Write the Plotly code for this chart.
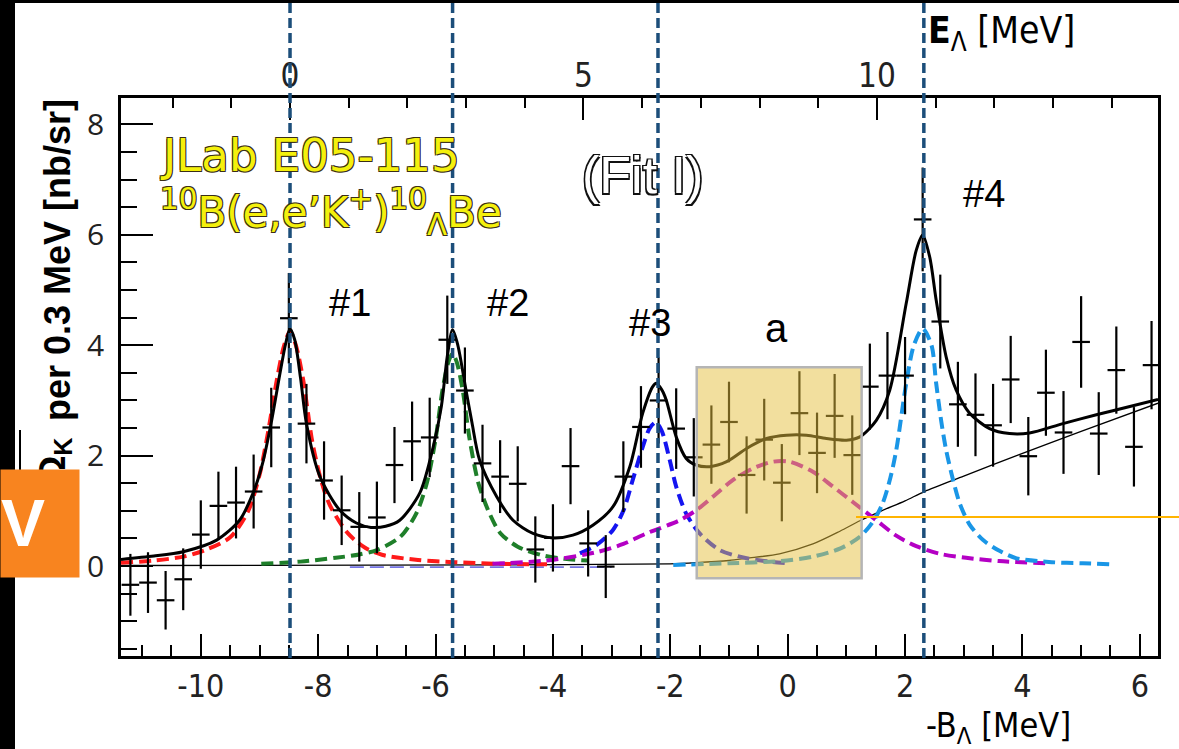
import plotly.graph_objects as go

W, H = 1179, 749

# ---------------- data ----------------
bin_x = [-11.2, -10.9, -10.6, -10.3, -10.0, -9.7, -9.4, -9.1, -8.8, -8.5, -8.2, -7.9, -7.6, -7.3, -7.0,
         -6.7, -6.4, -6.1, -5.8, -5.5, -5.2, -4.9, -4.6, -4.3, -4.0, -3.7, -3.4, -3.1, -2.8, -2.5,
         -2.2, -1.9, -1.6, -1.3, -1.0, -0.7, -0.4, -0.1, 0.2, 0.5, 0.8, 1.1, 1.4, 1.7, 2.0,
         2.3, 2.6, 2.9, 3.2, 3.5, 3.8, 4.1, 4.4, 4.7, 5.0, 5.3, 5.6, 5.9, 6.2]
counts = [-0.34, -0.30, -0.62, -0.24, 0.57, 1.09, 1.15, 1.35, 2.51, 4.49, 2.58, 1.55, 1.01, 0.71, 0.88,
          1.83, 2.26, 2.33, 4.10, 3.18, 1.86, 1.62, 1.49, 0.30, 0.51, 1.81, 0.41, -0.01, 1.62, 2.52,
          3.00, 2.49, 1.97, 2.20, 2.61, 1.65, 2.29, 1.51, 2.77, 2.05, 2.72, 2.01, 3.25, 3.45, 3.45,
          6.28, 4.43, 2.93, 2.74, 2.55, 3.38, 1.99, 3.14, 2.42, 4.06, 2.40, 3.55, 2.16, 3.64]
errors = [0.56, 0.55, 0.53, 0.56, 0.62, 0.62, 0.65, 0.67, 0.72, 0.82, 0.72, 0.71, 0.63, 0.63, 0.65,
          0.69, 0.72, 0.72, 0.80, 0.78, 0.70, 0.66, 0.68, 0.60, 0.61, 0.69, 0.60, 0.57, 0.64, 0.74,
          0.78, 0.73, 0.71, 0.71, 0.73, 0.70, 0.74, 0.70, 0.76, 0.73, 0.76, 0.72, 0.78, 0.79, 0.70,
          0.94, 0.85, 0.77, 0.75, 0.75, 0.79, 0.71, 0.78, 0.75, 0.83, 0.75, 0.79, 0.72, 0.80]
bin_half_width = 0.15

total_x = [-11.36, -10.8, -10.3, -9.73, -9.34, -9.11, -8.95, -8.8, -8.65, -8.55, -8.48, -8.4, -8.3, -8.2,
           -7.97, -7.63, -7.35, -7.1, -6.85, -6.61, -6.27, -6.04, -5.9, -5.8, -5.71, -5.62, -5.5, -5.38,
           -5.25, -4.96, -4.68, -4.34, -4.0, -3.66, -3.32, -2.98, -2.69, -2.47, -2.3, -2.24, -2.15, -2.07,
           -1.9, -1.73, -1.56, -1.33, -1.04, -0.7, -0.36, -0.02, 0.32, 0.66, 1.0, 1.23, 1.51, 1.74, 2.02,
           2.19, 2.3, 2.42, 2.53, 2.7, 2.87, 3.1, 3.44, 3.78, 4.12, 4.69, 5.26, 5.83, 6.31]
total_y = [0.12, 0.18, 0.26, 0.47, 0.83, 1.32, 1.85, 2.6, 3.5, 4.05, 4.3, 4.1, 3.4, 2.58,
           1.62, 1.01, 0.78, 0.70, 0.72, 0.83, 1.32, 2.16, 2.9, 3.8, 4.28, 4.0, 3.3, 2.6,
           1.92, 1.26, 0.83, 0.59, 0.51, 0.56, 0.74, 1.07, 1.80, 2.77, 3.25, 3.31, 3.2, 3.01,
           2.34, 1.95, 1.83, 1.80, 1.89, 2.13, 2.31, 2.37, 2.37, 2.31, 2.28, 2.34, 2.64, 3.19, 4.76,
           5.72, 6.0, 5.6, 4.82, 3.79, 3.19, 2.77, 2.49, 2.40, 2.41, 2.58, 2.74, 2.89, 3.02]

bg_x = [-11.36, -5.0, -2.0, -1.56, -1.0, -0.7, -0.14, 0.43, 0.89, 1.23, 1.6, 2.0, 2.33, 3.0, 3.9, 5.0, 6.31]
bg_y = [0.01, 0.02, 0.04, 0.06, 0.10, 0.14, 0.22, 0.40, 0.63, 0.82, 1.00, 1.18, 1.35, 1.63, 2.00, 2.44, 2.95]

p1_x = [-11.36, -10.8, -10.3, -9.9, -9.5, -9.2, -9.0, -8.85, -8.7, -8.58, -8.48, -8.38, -8.26, -8.1,
        -7.95, -7.8, -7.5, -7.2, -6.9, -6.3, -5.7, -4.9, -4.0]
p1_y = [0.06, 0.10, 0.17, 0.30, 0.52, 0.98, 1.65, 2.45, 3.4, 4.0, 4.25, 4.0, 3.4, 2.25,
        1.55, 1.10, 0.60, 0.33, 0.20, 0.11, 0.07, 0.04, 0.03]

p2_x = [-8.97, -8.3, -7.7, -7.3, -7.0, -6.6, -6.33, -6.15, -6.0, -5.88, -5.78, -5.71, -5.64, -5.54,
        -5.42, -5.27, -5.1, -4.9, -4.6, -4.2, -3.8, -3.4]
p2_y = [0.04, 0.08, 0.15, 0.21, 0.29, 0.53, 0.95, 1.5, 2.3, 3.2, 3.7, 3.85, 3.7, 3.2,
        2.3, 1.5, 1.0, 0.6, 0.35, 0.2, 0.13, 0.10]

p3_tail_x = [-7.46, -3.0]
p3_tail_y = [-0.02, -0.02]
p3_x = [-3.54, -3.26, -2.98, -2.8, -2.64, -2.47, -2.35, -2.25, -2.15, -2.01, -1.9, -1.73, -1.5, -1.16,
        -0.7, -0.3, 0.0]
p3_y = [0.23, 0.38, 0.65, 1.0, 1.56, 2.16, 2.5, 2.6, 2.46, 1.92, 1.44, 0.95, 0.59, 0.29,
        0.14, 0.08, 0.05]

pa_x = [-5.03, -4.11, -3.26, -2.8, -2.41, -1.84, -1.56, -1.27, -0.93, -0.59, -0.25, 0.03, 0.43, 0.77,
        1.11, 1.51, 1.85, 2.19, 2.6, 3.04, 3.6, 4.46]
pa_y = [0.04, 0.10, 0.25, 0.40, 0.59, 0.83, 1.01, 1.26, 1.56, 1.77, 1.89, 1.89, 1.71, 1.44,
        1.16, 0.83, 0.55, 0.36, 0.22, 0.15, 0.09, 0.05]

p4_x = [-1.95, -1.0, -0.14, 0.43, 0.9, 1.23, 1.45, 1.62, 1.75, 1.85, 2.02, 2.15, 2.3, 2.45, 2.53,
        2.62, 2.7, 2.82, 2.93, 3.1, 3.33, 3.6, 3.9, 4.5, 5.03, 5.49]
p4_y = [0.02, 0.05, 0.09, 0.17, 0.32, 0.53, 0.80, 1.14, 1.6, 2.1, 3.31, 4.0, 4.3, 4.0, 3.31,
        2.6, 2.1, 1.55, 1.14, 0.75, 0.47, 0.28, 0.14, 0.07, 0.05, 0.03]

peak_positions = [-8.48, -5.71, -2.21, 2.32]
peak_labels = ["#1", "#2", "#3", "#4"]
e_offset = 8.48  # E_Lambda = -B_Lambda + offset

x_range = [-11.36, 6.31]
y_range = [-1.63, 8.48]
x_ticks = [-10, -8, -6, -4, -2, 0, 2, 4, 6]
y_ticks = [0, 2, 4, 6, 8]
top_ticks = [0, 5, 10]

box_a = dict(x0=-1.55, x1=1.26, y0=-0.22, y1=3.6)
threshold_level = 0.89

# ---------------- helpers (pixel -> paper) ----------------
def PX(v):
    return v / W

def PY(v):
    return 1 - v / H

COND = "DejaVu Sans Condensed, DejaVu Sans, sans-serif"
REG = "Open Sans, Liberation Sans, sans-serif"
ARIAL = "Liberation Sans, Arial, sans-serif"
WIDE = "DejaVu Sans, Verdana, sans-serif"

fig = go.Figure()

def curve(x, y, color, width, dash, shape="spline"):
    fig.add_trace(go.Scatter(x=x, y=y, mode="lines",
                             line=dict(color=color, width=width, dash=dash, shape=shape, smoothing=0.8),
                             hoverinfo="skip", showlegend=False))

curve(bg_x, bg_y, "black", 1.3, "solid")
curve(p3_tail_x, p3_tail_y, "#7474E4", 1.8, "14px,6px", "linear")
curve(p1_x, p1_y, "#FF1A1A", 4, "12px,6px")
curve(p2_x, p2_y, "#1F7F2A", 4, "12px,6px")
curve(p3_x, p3_y, "#1414F0", 4, "12px,6px")
curve(pa_x, pa_y, "#B400C4", 4, "12px,6px")
curve(p4_x, p4_y, "#1A96E6", 4, "12px,6px")
curve(total_x, total_y, "black", 3, "solid")

fig.add_trace(go.Scatter(
    x=bin_x, y=counts, mode="markers",
    marker=dict(size=1, color="black"),
    error_y=dict(type="data", array=errors, color="black", thickness=2.2, width=0),
    error_x=dict(type="constant", value=bin_half_width, color="black", thickness=2.2, width=0),
    hoverinfo="skip", showlegend=False))

# dummy trace for top axis
fig.add_trace(go.Scatter(x=[top_ticks[0]], y=[None], xaxis="x2", yaxis="y",
                         mode="markers", showlegend=False, hoverinfo="skip"))

shapes = []
shapes.append(dict(type="rect", xref="x", yref="y", layer="above",
                   fillcolor="rgba(229,191,61,0.5)", line=dict(color="#B5B5B5", width=2.5), **box_a))
for p in peak_positions:
    shapes.append(dict(type="line", xref="x", yref="paper", x0=p, x1=p, y0=PY(658), y1=1.0,
                       layer="above", line=dict(color="#1C4E7A", width=3.5, dash="10px,5px")))
shapes.append(dict(type="line", xref="paper", yref="y", x0=PX(856), x1=1.0,
                   y0=threshold_level, y1=threshold_level, layer="above",
                   line=dict(color="#FFB400", width=2)))
shapes.append(dict(type="line", xref="paper", yref="paper", x0=PX(20), x1=PX(20),
                   y0=PY(430), y1=PY(530), layer="above", line=dict(color="black", width=2)))
shapes.append(dict(type="rect", xref="paper", yref="paper", x0=0, x1=PX(15), y0=0, y1=1,
                   fillcolor="black", line=dict(width=0), layer="above"))
shapes.append(dict(type="rect", xref="paper", yref="paper", x0=0, x1=1, y0=PY(3), y1=1,
                   fillcolor="black", line=dict(width=0), layer="above"))

outline_dark = "-1px -1px 0 #3a2e18, 1px -1px 0 #3a2e18, -1px 1px 0 #3a2e18, 1px 1px 0 #3a2e18"
outline_black = "-1.5px -1.5px 0 #111, 1.5px -1.5px 0 #111, -1.5px 1.5px 0 #111, 1.5px 1.5px 0 #111"

ann = []
def A(text, x, y, size, color="black", family=REG, xanchor="center", yanchor="middle", angle=0,
      shadow=None, **kw):
    f = dict(size=size, color=color, family=family)
    if shadow:
        f["shadow"] = shadow
    ann.append(dict(text=text, x=PX(x), y=PY(y), xref="paper", yref="paper", showarrow=False,
                    xanchor=xanchor, yanchor=yanchor, textangle=angle, font=f, **kw))

A("JLab E05-115", 158, 155, 45, color="#F4F00C", family=WIDE, xanchor="left", shadow=outline_dark)
A("<sup>10</sup>B(e,e’K<sup>+</sup>)<sup>10</sup><sub>Λ</sub>Be", 158, 212, 42, color="#F4F00C",
  family=WIDE, xanchor="left", shadow=outline_dark)
A("(Fit I)", 642, 175, 52, color="white", family=ARIAL, shadow=outline_black)
label_pos = [(350, 303), (508, 303), (650, 323), (984, 194)]
for lab, (lx, ly) in zip(peak_labels, label_pos):
    A(lab, lx, ly, 38, family=ARIAL)
A("a", 776, 328, 40, family=ARIAL)
A("<b>E</b><sub>Λ</sub> [MeV]", 926, 33, 37, family=COND, xanchor="left")
A("-B<sub>Λ</sub> [MeV]", 924, 727, 34, family=COND, xanchor="left")
# y title
A("<b>per 0.3 MeV [nb/sr]</b>", 57, 97, 36, family=ARIAL, yanchor="top", angle=-90)
A("<b>dΩ<sub>K</sub></b>", 54, 436, 36, family=ARIAL, yanchor="top", angle=-90)
# orange box with V
ann.append(dict(text=" ", x=0, y=PY(469), xref="paper", yref="paper", showarrow=False,
                xanchor="left", yanchor="top", width=78, height=107, bgcolor="#F8841F",
                borderpad=0, font=dict(size=10)))
ann.append(dict(text="<b>V</b>", x=0, y=PY(523), xref="paper", yref="paper", showarrow=False,
                xanchor="left", yanchor="middle", borderpad=0,
                font=dict(size=66, color="white", family=ARIAL)))

fig.update_layout(
    width=W, height=H, margin=dict(l=0, r=0, t=0, b=0),
    paper_bgcolor="white", plot_bgcolor="white",
    shapes=shapes, annotations=ann, showlegend=False,
    xaxis=dict(domain=[PX(121), PX(1158)], range=x_range, tickvals=x_ticks,
               ticktext=[str(t) for t in x_ticks], ticks="inside", ticklen=22, tickwidth=2,
               tickcolor="black", showline=True, linewidth=2.5, linecolor="black", mirror=True,
               showgrid=False, zeroline=False,
               tickfont=dict(family=COND, size=32, color="#222"), ticklabelstandoff=0,
               minor=dict(dtick=0.5, tick0=0, ticks="inside", ticklen=11, tickwidth=2,
                          tickcolor="black", showgrid=False),
               automargin=False),
    xaxis2=dict(overlaying="x", anchor="y", side="top",
                range=[x_range[0] + e_offset, x_range[1] + e_offset], tickvals=top_ticks,
                ticks="inside", ticklen=22, tickwidth=2, tickcolor="black", showline=False,
                showgrid=False, zeroline=False,
                tickfont=dict(family=COND, size=33, color="#222"), ticklabelstandoff=3,
                minor=dict(dtick=1, tick0=0, ticks="inside", ticklen=10, tickwidth=2,
                           tickcolor="black", showgrid=False),
                automargin=False),
    yaxis=dict(domain=[PY(656), PY(98)], range=y_range, tickvals=y_ticks,
               ticks="inside", ticklen=32, tickwidth=2, tickcolor="black",
               showline=True, linewidth=2.5, linecolor="black", mirror=True,
               showgrid=False, zeroline=False,
               tickfont=dict(family=REG, size=30, color="#222"), ticklabelstandoff=8,
               minor=dict(dtick=0.5, tick0=0, ticks="inside", ticklen=16, tickwidth=2,
                          tickcolor="black", showgrid=False),
               automargin=False),
)

fig.write_html("out.html")
